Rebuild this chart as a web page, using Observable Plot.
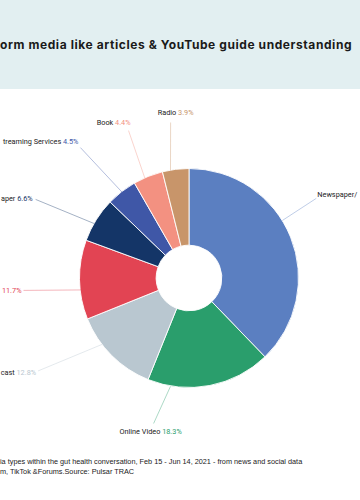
<!DOCTYPE html>
<html>
<head>
<meta charset="utf-8">
<script src="https://cdn.jsdelivr.net/npm/d3@7"></script>
<script src="https://cdn.jsdelivr.net/npm/@observablehq/plot@0.6"></script>
<style>
  html, body { margin: 0; padding: 0; width: 360px; height: 500px; overflow: hidden; background: #ffffff; }
  #header { position: relative; width: 360px; height: 89px; background: #e2eff1; overflow: hidden; }
  #title { position: absolute; left: 0; top: 37px; white-space: nowrap; font-family: Inter, "Noto Sans", sans-serif; font-weight: 700; font-size: 12px; letter-spacing: 0.58px; color: #1a1a1a; }
  #chart { position: relative; width: 360px; height: 365px; }
  #note { position: relative; width: 360px; padding-top: 3px; font-family: "Liberation Sans", Arial, sans-serif; font-size: 7.3px; line-height: 10px; color: #222; white-space: nowrap; }
</style>
</head>
<body>
<div id="header"><div id="title">orm media like articles &amp; YouTube guide understanding</div></div>
<div id="chart"></div>
<div id="note"><div>ia types within the gut health conversation, Feb 15 - Jun 14, 2021 - from news and social data</div><div>m, TikTok &amp;Forums.Source: Pulsar TRAC</div></div>
<script>
// ---- data ----
const categories = ["Newspaper/Magazine", "Online Video", "Podcast", "Blog Post", "Research Paper", "TV/Streaming Services", "Book", "Radio"];
const shares = [37.8, 18.3, 12.8, 11.7, 6.6, 4.5, 4.4, 3.9];
const colors = ["#5b7fc1", "#2a9e6c", "#b9c7d0", "#e24453", "#143567", "#3f57a7", "#f39181", "#c8956a"];
// label names as far as they are visible in the (cropped) reference
const labelNames = ["Newspaper/", "Online Video", "cast", "", "aper", "treaming Services", "Book", "Radio"];
// whether the value is visible next to the label in the (cropped) reference
const labelShowValue = [false, true, true, true, true, true, true, true];

// ---- label layout (angles in degrees clockwise from 12 o'clock, radii in pie radii, offsets in px) ----
const edgeAngles  = [58, 190, 233, 264, 300, 322, 336, 350];
const labelAngles = [57.7, 193.9, 238.6, 265.9, 297.2, 320.2, 337.6, 353.1];
const labelRadii  = [1.37, 1.364, 1.62, 1.52, 1.58, 1.556, 1.461, 1.435];
const labelAnchors = ["start", "middle", "end", "end", "end", "end", "end", "middle"];
const labelDx = [1, -3, -2, -2, -3, -2, 2, 5];
const labelDy = [-4, 8, 2, 0, -1, -6, -8, -10];

const R = 109.5, CX = 189, CY = 189, HOLE = 0.3;
const rad = a => a * Math.PI / 180;

const rows = categories.map((name, i) => ({
  name, label: labelNames[i], showValue: labelShowValue[i], share: shares[i], color: colors[i],
  edge: edgeAngles[i], angle: labelAngles[i], r: labelRadii[i],
  anchor: labelAnchors[i], dx: labelDx[i], dy: labelDy[i]
}));

function slices(index, scales) {
  const x0 = scales.x(0), y0 = scales.y(0);
  const r = scales.x(1) - x0;
  const arcs = d3.pie().sort(null).value(d => d.share)(rows);
  const arc = d3.arc().innerRadius(r * HOLE).outerRadius(r);
  const g = d3.create("svg:g").attr("transform", `translate(${x0},${y0})`);
  g.selectAll("path").data(arcs).join("path")
    .attr("d", arc)
    .attr("fill", d => scales.color ? scales.color(d.data.name) : d.data.color)
    .attr("stroke", "#ffffff")
    .attr("stroke-width", 0.9);
  return g.node();
}

function withValue(index, scales, values, dimensions, context, next) {
  const g = next(index, scales, values, dimensions, context);
  const nodes = g.querySelectorAll("text");
  index.forEach((i, k) => {
    const node = nodes[k];
    if (!node) return;
    node.textContent = rows[i].label;
    if (!rows[i].showValue) return;
    const t = document.createElementNS("http://www.w3.org/2000/svg", "tspan");
    t.setAttribute("fill", rows[i].color);
    t.textContent = (rows[i].label ? " " : "") + rows[i].share.toFixed(1) + "%";
    node.appendChild(t);
  });
  return g;
}

const tx = d => d.r * Math.sin(rad(d.angle)) + d.dx / R;
const ty = d => d.r * Math.cos(rad(d.angle)) - d.dy / R;

const textMark = anchor => Plot.text(rows, {
  filter: d => d.anchor === anchor,
  x: tx, y: ty, text: d => d.label || d.name,
  textAnchor: anchor,
  fill: "#222222",
  fontSize: 7.3,
  fontFamily: "Roboto, 'Liberation Sans', sans-serif",
  render: withValue
});

const chart = Plot.plot({
  width: 360,
  height: 365,
  margin: 0,
  style: { background: "transparent" },
  x: { domain: [-1, 1], range: [CX - R, CX + R], axis: null },
  y: { domain: [-1, 1], range: [CY + R, CY - R], axis: null },
  color: { domain: categories, range: colors },
  marks: [
    slices,
    Plot.link(rows, {
      x1: d => Math.sin(rad(d.edge)), y1: d => Math.cos(rad(d.edge)),
      x2: d => d.r * Math.sin(rad(d.angle)), y2: d => d.r * Math.cos(rad(d.angle)),
      stroke: "name", strokeWidth: 0.6, strokeOpacity: 0.65
    }),
    textMark("start"),
    textMark("middle"),
    textMark("end")
  ]
});
document.getElementById("chart").appendChild(chart);
</script>
</body>
</html>
